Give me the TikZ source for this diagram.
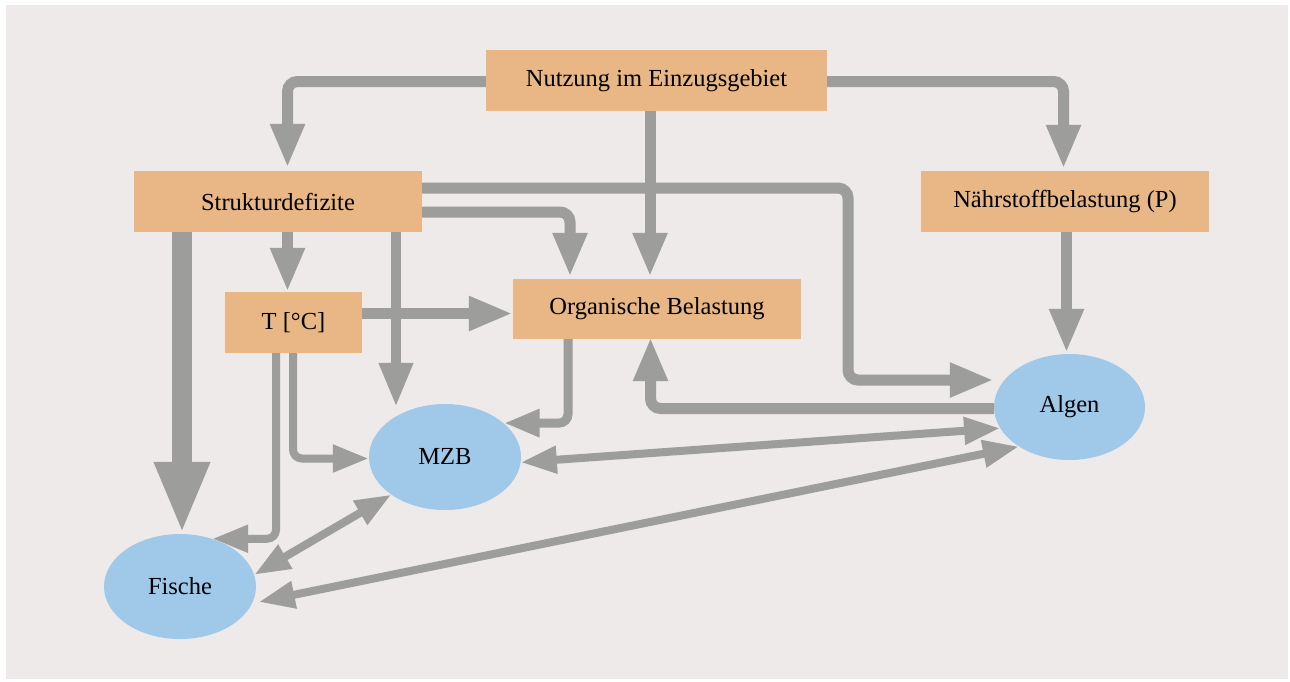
\documentclass[tikz,border=0pt]{standalone}
\usepackage{fontspec}
\setmainfont{Liberation Serif}
\usetikzlibrary{arrows.meta,shapes.geometric}
\definecolor{bgc}{HTML}{EDEAE9}
\definecolor{boxc}{HTML}{E8B785}
\definecolor{ellc}{HTML}{9FC8E9}
\definecolor{grc}{HTML}{9D9D9B}
\begin{document}
\begin{tikzpicture}[x=1pt,y=-1pt,font=\fontsize{24.5}{29}\selectfont]
\tikzset{
 box/.style={rectangle, fill=boxc, inner sep=0pt, minimum height=61pt},
 ell/.style={ellipse, fill=ellc, inner sep=0pt, minimum width=152pt, minimum height=106pt},
 arr/.style={draw=grc, line width=11pt, rounded corners=10pt, -{Triangle[length=44pt,width=32pt]}},
 thinarr/.style={draw=grc, line width=8pt, rounded corners=9pt, -{Triangle[length=36pt,width=26pt]}},
 bigarr/.style={draw=grc, line width=20pt, -{Triangle[length=72pt,width=51pt]}},
 botharr/.style={draw=grc, line width=8pt, {Triangle[length=36pt,width=26pt]}-{Triangle[length=36pt,width=26pt]}},
}
\useasboundingbox (0,0) rectangle (1290,681);
\fill[bgc] (6,5) rectangle (1288,679);
% nodes
\node[box, minimum width=341pt] (nutz) at (656.5,80.5) {\raisebox{-1.5pt}{Nutzung im Einzugsgebiet}};
\node[box, minimum width=288pt] (struk) at (278,201.5) {\raisebox{-1.5pt}{Strukturdefizite}};
\node[box, minimum width=137pt] (temp) at (293.5,322.5) {\raisebox{-1.5pt}{T [°C]}};
\node[box, minimum width=288pt, minimum height=60pt] (org) at (657,309) {\raisebox{-1.5pt}{Organische Belastung}};
\node[box, minimum width=288pt] (naehr) at (1065,201.5) {\raisebox{-1.5pt}{Nährstoffbelastung (P)}};
\node[ell, minimum width=151pt] (algen) at (1069.5,407) {\raisebox{-1.5pt}{Algen}};
\node[ell] (mzb) at (445,457) {\raisebox{-1.5pt}{MZB}};
\node[ell, minimum height=105pt] (fische) at (180,586.5) {\raisebox{-1.5pt}{Fische}};
% connectors
\draw[arr] ([yshift=-1pt]nutz.west) -| ([xshift=9.5pt,yshift=3pt]struk.north);
\draw[arr] ([yshift=-1pt]nutz.east) -| ([xshift=-1.5pt,yshift=2pt]naehr.north);
\draw[arr] ([xshift=-6.5pt]nutz.south) -- ([xshift=-7pt,yshift=2pt]org.north);
\draw[arr] ([xshift=9.5pt]struk.south) -- ([xshift=-6pt]temp.north);
\draw[bigarr] ([xshift=-96pt]struk.south) -- ([xshift=2pt]fische.north);
\draw[arr, line width=10pt] ([xshift=118pt]struk.south) -- ([xshift=-49pt,yshift=-3pt]mzb.north);
\draw[arr] ([yshift=-10.5pt]struk.east) -| ([xshift=-87pt,yshift=2pt]org.north);
\coordinate (k1) at (848,380);
\draw[arr] ([yshift=13.5pt]struk.east) -| (k1) -- (k1 -| algen.west);
\draw[arr] ([xshift=1.5pt]naehr.south) -- ([xshift=-3pt,yshift=1pt]algen.north);
\draw[arr] ([yshift=9pt]temp.east) -- ([yshift=-4.5pt]org.west);
\draw[thinarr] ([xshift=-0.5pt]temp.south) |- ([yshift=-1.5pt]mzb.west);
\draw[thinarr] ([xshift=-17.5pt]temp.south) |- (fische.56);
\draw[thinarr, line width=9pt] ([xshift=-89pt]org.south) |- (mzb.30);
\draw[arr] ([yshift=-1.5pt]algen.west) -| ([xshift=-6.5pt,yshift=2pt]org.south);
\draw[botharr] (mzb.-4) -- (algen.197);
\draw[botharr] ([xshift=6pt]fische.-12) -- (algen.218);
\draw[botharr] (fische.9) -- (mzb.215);
\end{tikzpicture}
\end{document}
